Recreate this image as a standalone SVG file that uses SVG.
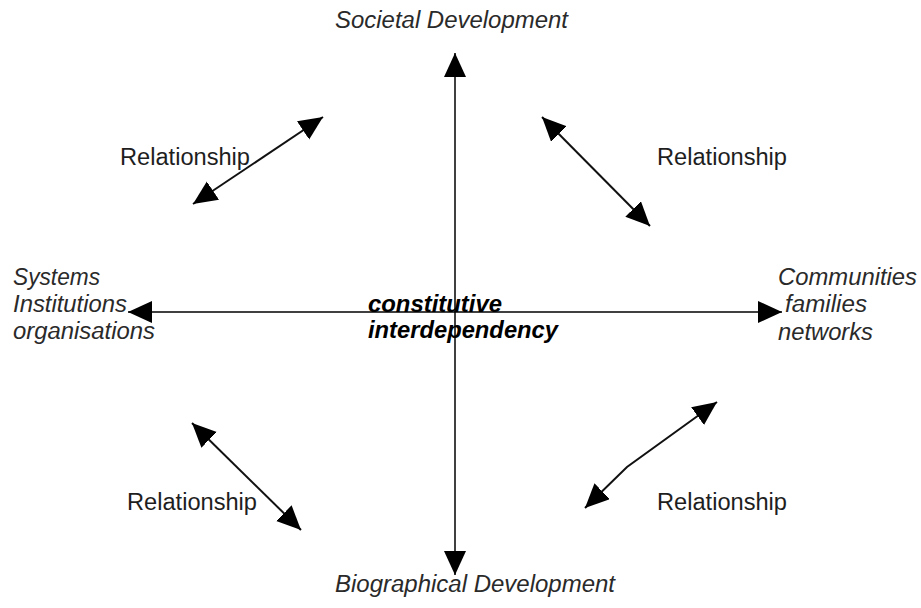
<svg xmlns="http://www.w3.org/2000/svg" width="921" height="608" viewBox="0 0 921 608">
<style>
text{font-family:"Liberation Sans",Arial,sans-serif;font-size:23px;fill:#1e1e1e}
.it{font-style:italic;fill:#2a2a2a}
.bi{font-style:italic;font-weight:bold;fill:#000}
.axis{stroke:#000;stroke-width:1.5;fill:none}
.rel{stroke:#111;stroke-width:2;fill:none}
</style>
<defs>
<marker id="ah" markerUnits="userSpaceOnUse" markerWidth="26" markerHeight="24" refX="24" refY="11" orient="auto-start-reverse">
<path d="M0,0 L24,11 L0,22 z" fill="#000"/>
</marker>
</defs>
<g id="connectors">
<line class="axis" x1="455" y1="575" x2="455" y2="53" marker-start="url(#ah)" marker-end="url(#ah)"/>
<line class="axis" x1="128" y1="312" x2="782" y2="312" marker-start="url(#ah)" marker-end="url(#ah)"/>
<line class="rel" x1="193" y1="204" x2="323" y2="117" marker-start="url(#ah)" marker-end="url(#ah)"/>
<line class="rel" x1="542" y1="117" x2="650" y2="226" marker-start="url(#ah)" marker-end="url(#ah)"/>
<line class="rel" x1="192" y1="423" x2="301" y2="530" marker-start="url(#ah)" marker-end="url(#ah)"/>
<polyline class="rel" points="585,508 627,467 717,402" marker-start="url(#ah)" marker-end="url(#ah)"/>
</g>
<g id="societal"><text class="it" x="335" y="28" textLength="233" lengthAdjust="spacingAndGlyphs">Societal Development</text></g>
<g id="biographical"><text class="it" x="335" y="592" textLength="280" lengthAdjust="spacingAndGlyphs">Biographical Development</text></g>
<g id="systems">
<text class="it" x="13" y="285" textLength="87" lengthAdjust="spacingAndGlyphs">Systems</text>
<text class="it" x="13" y="312" textLength="114" lengthAdjust="spacingAndGlyphs">Institutions</text>
<text class="it" x="13" y="339" textLength="142" lengthAdjust="spacingAndGlyphs">organisations</text>
</g>
<g id="communities">
<text class="it" x="778" y="285" textLength="139" lengthAdjust="spacingAndGlyphs">Communities</text>
<text class="it" x="785" y="312" textLength="82" lengthAdjust="spacingAndGlyphs">families</text>
<text class="it" x="778" y="340" textLength="95" lengthAdjust="spacingAndGlyphs">networks</text>
</g>
<g id="center">
<text class="bi" x="368" y="312" textLength="134" lengthAdjust="spacingAndGlyphs">constitutive</text>
<text class="bi" x="368" y="338" textLength="190" lengthAdjust="spacingAndGlyphs">interdependency</text>
</g>
<g id="rel-tl"><text x="120" y="165" textLength="130" lengthAdjust="spacingAndGlyphs">Relationship</text></g>
<g id="rel-tr"><text x="657" y="165" textLength="130" lengthAdjust="spacingAndGlyphs">Relationship</text></g>
<g id="rel-bl"><text x="127" y="510" textLength="130" lengthAdjust="spacingAndGlyphs">Relationship</text></g>
<g id="rel-br"><text x="657" y="510" textLength="130" lengthAdjust="spacingAndGlyphs">Relationship</text></g>
</svg>
